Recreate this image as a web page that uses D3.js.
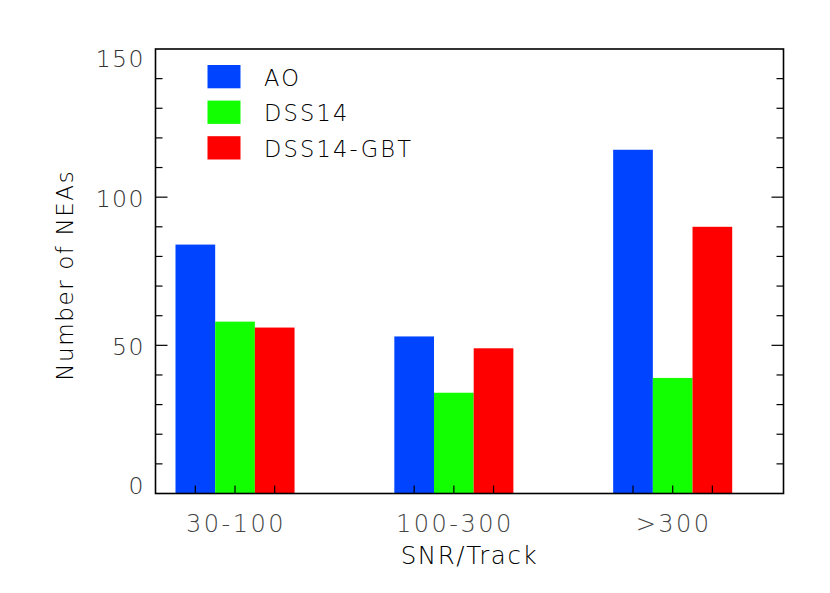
<!DOCTYPE html>
<html><head><meta charset="utf-8">
<script src="https://cdn.jsdelivr.net/npm/d3@7"></script>
<style>body{margin:0;background:#fff}</style>
</head><body>
<svg id="c" width="830" height="593"></svg>
<script>
const categories = ["30-100", "100-300", ">300"];
const seriesNames = ["AO", "DSS14", "DSS14-GBT"];
const AO = [84, 53, 116];
const DSS14 = [58, 34, 39];
const DSS14_GBT = [56, 49, 90];
const colors = ["#0044ff", "#11ff00", "#ff0000"];
const yMajorTicks = [0, 50, 100, 150];

const values = [AO, DSS14, DSS14_GBT];
const svg = d3.select("#c");
const L = 155.5, R = 783.5, T = 49, B = 493.5;
const font = "'DejaVu Sans', sans-serif";
const fw = 200;

const y = d3.scaleLinear().domain([0, 150]).range([B, T]);
const x0 = d3.scaleBand().domain(categories).range([125.6, 782.1]).paddingInner(0.456).paddingOuter(0.228);
const x1 = d3.scaleBand().domain(seriesNames).range([0, x0.bandwidth()]);

// bars
categories.forEach((c, ci) => {
  seriesNames.forEach((s, si) => {
    svg.append("rect")
      .attr("x", x0(c) + x1(s))
      .attr("y", y(values[si][ci]))
      .attr("width", x1.bandwidth())
      .attr("height", B - y(values[si][ci]))
      .attr("fill", colors[si]);
  });
});

// frame
svg.append("rect").attr("x", L).attr("y", T).attr("width", R - L).attr("height", B - T)
  .attr("fill", "none").attr("stroke", "#000").attr("stroke-width", 1.6);

// y ticks (left and right)
const minor = d3.range(0, 151, 10);
minor.forEach(v => {
  const major = yMajorTicks.includes(v);
  const len = major ? 12 : 7;
  if (v === 0 || v === 150) return;
  svg.append("line").attr("x1", L).attr("x2", L + len).attr("y1", y(v)).attr("y2", y(v)).attr("stroke", "#000").attr("stroke-width", 1.2);
  svg.append("line").attr("x1", R).attr("x2", R - len).attr("y1", y(v)).attr("y2", y(v)).attr("stroke", "#000").attr("stroke-width", 1.2);
});
yMajorTicks.forEach(v => {
  const cy = Math.max(T + 9, Math.min(B - 8.2, y(v) + 1.5));
  svg.append("text").attr("x", 145).attr("y", cy + 8.5).attr("text-anchor", "end")
    .attr("font-family", font).attr("font-weight", fw).attr("font-size", 23.5).attr("fill", "#333")
    .attr("letter-spacing", 1.5).text(v);
});

// x ticks at bar centers
categories.forEach(c => {
  seriesNames.forEach(s => {
    const cx = x0(c) + x1(s) + x1.bandwidth() / 2;
    svg.append("line").attr("x1", cx).attr("x2", cx).attr("y1", B).attr("y2", B - 8).attr("stroke", "#000").attr("stroke-width", 1.2);
  });
  svg.append("text").attr("x", x0(c) + x0.bandwidth() / 2 + 1).attr("y", 532).attr("text-anchor", "middle")
    .attr("font-family", font).attr("font-weight", fw).attr("font-size", 24).attr("fill", "#444")
    .attr("letter-spacing", 2.5).text(c);
});

// axis titles
svg.append("text").attr("x", (L + R) / 2).attr("y", 564).attr("text-anchor", "middle")
  .attr("font-family", font).attr("font-weight", fw).attr("font-size", 24.5).attr("fill", "#000")
  .attr("letter-spacing", 1.6).text("SNR/Track");
svg.append("text").attr("transform", `translate(73,${(T + B) / 2 + 4}) rotate(-90)`).attr("text-anchor", "middle")
  .attr("font-family", font).attr("font-weight", fw).attr("font-size", 23).attr("fill", "#000")
  .attr("letter-spacing", 1.6).text("Number of NEAs");

// legend
seriesNames.forEach((s, i) => {
  const ly = 65 + i * 35.6;
  svg.append("rect").attr("x", 207.5).attr("y", ly).attr("width", 33).attr("height", 23.3).attr("fill", colors[i]);
  svg.append("text").attr("x", 264).attr("y", ly + 20.5)
    .attr("font-family", font).attr("font-weight", fw).attr("font-size", 22.5).attr("fill", "#000")
    .attr("letter-spacing", 2.2).text(s);
});
</script>
</body></html>
